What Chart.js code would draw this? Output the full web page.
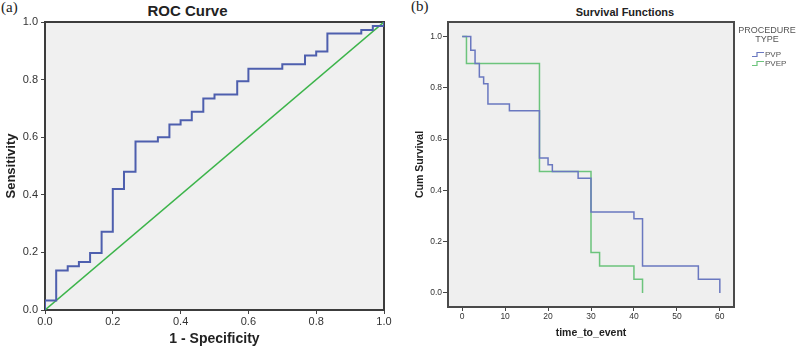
<!DOCTYPE html>
<html>
<head>
<meta charset="utf-8">
<script src="https://cdn.jsdelivr.net/npm/chart.js@4.4.1/dist/chart.umd.min.js"></script>
<style>
  body { margin: 0; width: 800px; height: 349px; overflow: hidden; background: #fff; position: relative; font-family: Arial, "Liberation Sans", sans-serif; }
  canvas { position: absolute; top: 0; }
  .rotulo { position: absolute; white-space: nowrap; }
  .letra { font-family: "Liberation Serif", "DejaVu Serif", serif; font-size: 15px; color: #222; }
  .titulo { font-weight: bold; color: #222; text-align: center; }
</style>
</head>
<body>
<div class="rotulo letra" style="left:1px; top:-1px;">(a)</div>
<div class="rotulo letra" style="left:411px; top:-2px;">(b)</div>
<div class="rotulo titulo" style="left:0; width:375px; top:2px; font-size:15px; line-height:17px;">ROC Curve</div>
<div class="rotulo titulo" style="left:500px; width:250px; top:6px; font-size:11px; line-height:13px;">Survival Functions</div>

<canvas id="graficoRoc" width="400" height="349" style="left:0"></canvas>
<canvas id="graficoSobrevida" width="400" height="349" style="left:400px"></canvas>

<script>
// ============================================================
// DADOS - curva ROC
// ============================================================
const rocFpr = [0, 0, 0.033, 0.067, 0.1, 0.133, 0.167, 0.2, 0.233, 0.267, 0.333, 0.367, 0.4,
  0.433, 0.467, 0.5, 0.567, 0.6, 0.7, 0.767, 0.8, 0.833, 0.933, 0.967, 1.0];
const rocTpr = [0, 0.033, 0.137, 0.152, 0.167, 0.198, 0.272, 0.42, 0.48, 0.585, 0.6, 0.644, 0.659,
  0.688, 0.734, 0.748, 0.794, 0.838, 0.853, 0.884, 0.898, 0.96, 0.972, 0.986, 1.0];
const refX = [0, 1];
const refY = [0, 1];
const rocTicks = [0, 0.2, 0.4, 0.6, 0.8, 1.0];

// ============================================================
// DADOS - curvas de sobrevida (Kaplan-Meier)
// ============================================================
const grupos = ["PVP", "PVEP"];
const tempoPvp = [0, 2, 3, 4, 5, 6, 11, 18, 20, 21, 27, 30, 40, 42, 55, 60];
const sobrevidaPvp = [1, 0.947, 0.895, 0.842, 0.816, 0.737, 0.711, 0.526, 0.5, 0.474, 0.447, 0.316, 0.289, 0.105, 0.053, 0];
const tempoPvep = [0, 1, 18, 30, 32, 40, 42];
const sobrevidaPvep = [1, 0.895, 0.474, 0.158, 0.105, 0.053, 0];
const tempoTicks = [0, 10, 20, 30, 40, 50, 60];
const sobrevidaTicks = [0, 0.2, 0.4, 0.6, 0.8, 1.0];

const FONTE = 'Arial, "Liberation Sans", sans-serif';
const pares = (xs, ys) => xs.map((x, i) => ({ x: x, y: ys[i] }));

// fundo cinza + moldura da area do grafico
const moldura = {
  id: "moldura",
  beforeDraw(chart, args, opts) {
    const a = chart.chartArea;
    chart.ctx.save();
    chart.ctx.fillStyle = opts.fundo;
    chart.ctx.fillRect(a.left, a.top, a.right - a.left, a.bottom - a.top);
    chart.ctx.restore();
  },
  beforeDatasetsDraw(chart, args, opts) {
    const a = chart.chartArea;
    const ctx = chart.ctx;
    ctx.save();
    ctx.strokeStyle = opts.cor;
    ctx.lineWidth = opts.largura;
    ctx.strokeRect(a.left, a.top, a.right - a.left, a.bottom - a.top);
    ctx.restore();
  }
};

// legenda no estilo SPSS (icone em degrau)
const legendaDegrau = {
  id: "legendaDegrau",
  afterDraw(chart, args, opts) {
    const ctx = chart.ctx;
    ctx.save();
    ctx.fillStyle = "#555";
    ctx.textBaseline = "middle";
    ctx.font = "9px " + FONTE;
    ctx.textAlign = "center";
    opts.titulo.forEach((linha, i) => ctx.fillText(linha, opts.tituloX, opts.tituloY + i * 9));
    ctx.textAlign = "left";
    ctx.font = "8px " + FONTE;
    chart.data.datasets.forEach((ds, i) => {
      const x = opts.itemX;
      const y = opts.itemY + i * 9;
      ctx.strokeStyle = ds.borderColor;
      ctx.lineWidth = 1.2;
      ctx.beginPath();
      ctx.moveTo(x, y + 2);
      ctx.lineTo(x + 5, y + 2);
      ctx.lineTo(x + 5, y - 2);
      ctx.lineTo(x + 12, y - 2);
      ctx.stroke();
      ctx.fillText(ds.label, x + 13, y);
    });
    ctx.restore();
  }
};

function eixo(opc) {
  return {
    type: "linear",
    min: opc.min,
    max: opc.max,
    afterBuildTicks: s => { s.ticks = opc.ticks.map(v => ({ value: v })); },
    afterFit: s => { if (opc.largura) s.width = opc.largura; if (opc.altura) s.height = opc.altura; },
    border: { display: false },
    grid: { drawOnChartArea: false, drawTicks: true, tickLength: opc.tick, tickColor: "#444", tickWidth: 1 },
    ticks: {
      padding: opc.pad,
      color: "#333",
      font: { family: FONTE, size: opc.fonte },
      maxRotation: 0,
      callback: opc.formato
    },
    title: {
      display: true,
      text: opc.titulo,
      color: "#222",
      font: { family: FONTE, size: opc.fonteTitulo, weight: "bold" },
      padding: opc.padTitulo
    }
  };
}

// ============================================================
// 1) GRAFICO ROC
// ============================================================
new Chart(document.getElementById("graficoRoc").getContext("2d"), {
  type: "line",
  data: {
    datasets: [{
      label: "ROC",
      data: pares(rocFpr, rocTpr),
      borderColor: "#4e5fae",
      borderWidth: 2,
      stepped: "before",
      pointRadius: 0,
      fill: false
    }, {
      label: "Reference Line",
      data: pares(refX, refY),
      borderColor: "#3cb44a",
      borderWidth: 1.5,
      pointRadius: 0,
      fill: false
    }]
  },
  options: {
    responsive: false,
    animation: false,
    devicePixelRatio: 1,
    layout: { padding: { top: 22, right: 16, left: 0, bottom: 0 } },
    plugins: {
      legend: { display: false },
      tooltip: { enabled: false },
      moldura: { fundo: "#f0f0f0", cor: "#3c3c3c", largura: 2 }
    },
    scales: {
      x: eixo({ min: 0, max: 1, ticks: rocTicks, altura: 39, tick: 4, pad: 1, fonte: 11,
        formato: v => v.toFixed(1), titulo: "1 - Specificity", fonteTitulo: 14, padTitulo: { top: 0, bottom: 1 } }),
      y: eixo({ min: 0, max: 1, ticks: rocTicks, largura: 45, tick: 4, pad: 3, fonte: 11,
        formato: v => v.toFixed(1), titulo: "Sensitivity", fonteTitulo: 13, padTitulo: { top: 3.5, bottom: 0 } })
    }
  },
  plugins: [moldura]
});

// ============================================================
// 2) GRAFICO DE SOBREVIDA
// ============================================================
new Chart(document.getElementById("graficoSobrevida").getContext("2d"), {
  type: "line",
  data: {
    datasets: [{
      label: grupos[0],
      data: pares(tempoPvp, sobrevidaPvp),
      borderColor: "#6a78c0",
      borderWidth: 1.5,
      stepped: "before",
      pointRadius: 0,
      fill: false
    }, {
      label: grupos[1],
      data: pares(tempoPvep, sobrevidaPvep),
      borderColor: "#6cc47c",
      borderWidth: 1.5,
      stepped: "before",
      pointRadius: 0,
      fill: false
    }]
  },
  options: {
    responsive: false,
    animation: false,
    devicePixelRatio: 1,
    layout: { padding: { top: 22, right: 66, left: 0, bottom: 0 } },
    plugins: {
      legend: { display: false },
      tooltip: { enabled: false },
      moldura: { fundo: "#efefef", cor: "#4a4a4a", largura: 2 },
      legendaDegrau: { titulo: ["PROCEDURE", "TYPE"], tituloX: 367, tituloY: 30.5, itemX: 352, itemY: 54.5 }
    },
    scales: {
      x: eixo({ min: -3.3, max: 63.3, ticks: tempoTicks, altura: 42, tick: 4, pad: 1, fonte: 8.5,
        formato: v => String(v), titulo: "time_to_event", fonteTitulo: 10.5, padTitulo: { top: 0, bottom: 9.4 } }),
      y: eixo({ min: -0.055, max: 1.057, ticks: sobrevidaTicks, largura: 48, tick: 5, pad: 1, fonte: 8.5,
        formato: v => v.toFixed(1), titulo: "Cum Survival", fonteTitulo: 10.5, padTitulo: { top: 13.7, bottom: 0 } })
    }
  },
  plugins: [moldura, legendaDegrau]
});
</script>
</body>
</html>
